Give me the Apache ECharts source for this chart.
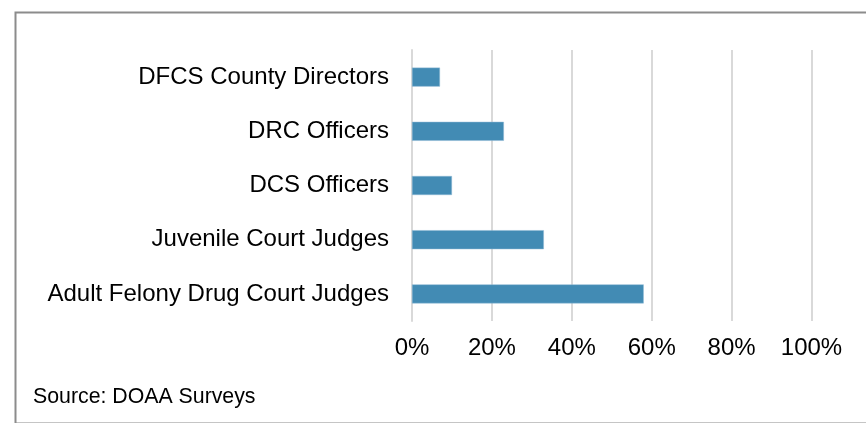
<!DOCTYPE html>
<html>
<head>
<meta charset="utf-8">
<script src="https://cdn.jsdelivr.net/npm/echarts@6/dist/echarts.min.js"></script>
<style>
html,body{margin:0;padding:0;background:#fff;}
#chart{width:866px;height:423px;}
</style>
</head>
<body>
<div id="chart"></div>
<script>
const categories = ["Adult Felony Drug Court Judges", "Juvenile Court Judges", "DCS Officers", "DRC Officers", "DFCS County Directors"];
const values = [58, 33, 10, 23, 7];
const tickLabels = ["0%", "20%", "40%", "60%", "80%", "100%"];
const sourceText = "Source: DOAA Surveys";

const chart = echarts.init(document.getElementById('chart'), null, {renderer: 'canvas'});
const font = "'Liberation Sans', Arial, sans-serif";
chart.setOption({
  animation: false,
  backgroundColor: '#ffffff',
  grid: {left: 412, right: 54.5, top: 50, bottom: 102, containLabel: false},
  xAxis: {
    type: 'value', min: 0, max: 100, interval: 20,
    axisLine: {show: false}, axisTick: {show: false},
    splitLine: {show: true, lineStyle: {color: '#d9d9d9', width: 2}},
    axisLabel: {
      margin: 15, color: '#000', fontSize: 24, fontFamily: font,
      formatter: function (v) { return tickLabels[Math.round(v / 20)]; }
    }
  },
  yAxis: {
    type: 'category', data: categories,
    axisLine: {show: true, lineStyle: {color: '#d9d9d9', width: 2}},
    axisTick: {show: false},
    axisLabel: {margin: 23, color: '#000', fontSize: 24, fontFamily: font}
  },
  series: [{
    type: 'bar', data: values, barWidth: 19,
    itemStyle: {color: '#428bb4', borderColor: '#8fb9d4', borderWidth: 0.5}
  }],
  graphic: [
    {type: 'rect', left: 13, top: 10, shape: {width: 870, height: 411},
     style: {fill: 'none', stroke: '#8c8c8c', lineWidth: 2}, silent: true},
    {type: 'text', left: 33, top: 387,
     style: {text: sourceText, fill: '#000', font: "21.3px 'Liberation Sans', Arial, sans-serif"}}
  ]
});
</script>
</body>
</html>
